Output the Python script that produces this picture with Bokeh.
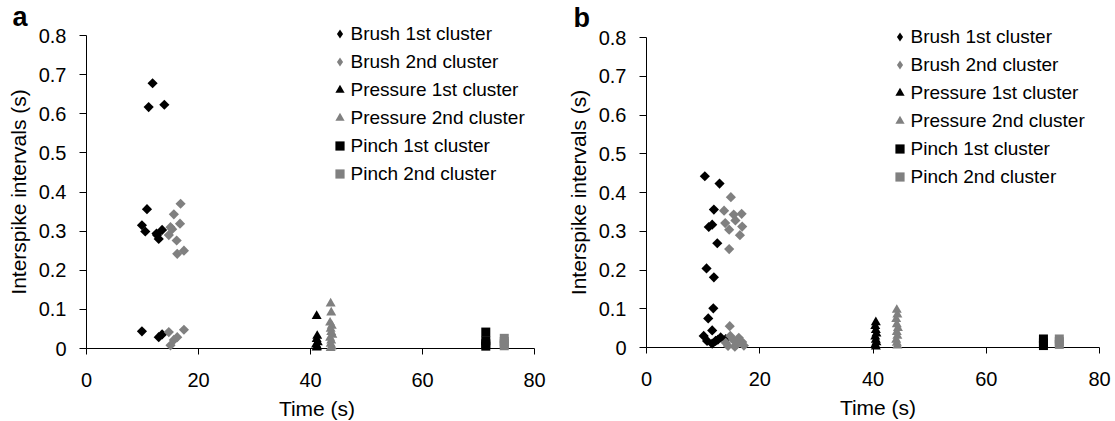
import math
from bokeh.plotting import figure
from bokeh.layouts import row
from bokeh.models import Range1d, FixedTicker, Legend, LegendItem, Label
from bokeh.embed import file_html
from bokeh.resources import INLINE

FONT = "Liberation Sans"

# ---------------- data ----------------
x_ticks = [0, 20, 40, 60, 80]
y_ticks = [0, 0.1, 0.2, 0.3, 0.4, 0.5, 0.6, 0.7, 0.8]
y_tick_labels = ["0", "0.1", "0.2", "0.3", "0.4", "0.5", "0.6", "0.7", "0.8"]
x_title = "Time (s)"
y_title = "Interspike intervals (s)"
panel_letters = ["a", "b"]

series_names = ["Brush 1st cluster", "Brush 2nd cluster", "Pressure 1st cluster",
                "Pressure 2nd cluster", "Pinch 1st cluster", "Pinch 2nd cluster"]

# Panel a
a_brush1_t = [11.8, 11.1, 13.9, 10.8, 9.9, 10.5, 12.5, 12.9, 13.5, 12.6, 9.9, 12.9, 13.5]
a_brush1_v = [0.678, 0.617, 0.623, 0.356, 0.315, 0.299, 0.294, 0.280, 0.303, 0.290, 0.044, 0.029, 0.036]
a_brush2_t = [16.8, 15.6, 16.7, 15.0, 14.7, 16.1, 16.2, 17.4, 14.7, 17.4, 16.2, 15.0, 15.6, 15.3]
a_brush2_v = [0.370, 0.343, 0.319, 0.310, 0.290, 0.276, 0.242, 0.250, 0.042, 0.048, 0.029, 0.008, 0.022, 0.305]
a_press1_t = [41.1, 41.2, 41.1, 41.3, 41.0, 41.2, 41.1]
a_press1_v = [0.083, 0.032, 0.024, 0.016, 0.010, 0.005, 0.002]
a_press2_t = [43.6, 43.7, 43.5, 43.8, 43.6, 43.7, 43.9, 43.5, 43.7, 43.6, 43.8, 43.6]
a_press2_v = [0.115, 0.092, 0.066, 0.058, 0.050, 0.042, 0.035, 0.027, 0.020, 0.012, 0.005, 0.001]
a_pinch1_t = [71.3, 71.3, 71.3, 71.3]
a_pinch1_v = [0.042, 0.020, 0.012, 0.006]
a_pinch2_t = [74.6, 74.6, 74.6, 74.6]
a_pinch2_v = [0.026, 0.018, 0.012, 0.007]

# Panel b
b_brush1_t = [10.3, 12.9, 11.9, 11.0, 11.6, 12.5, 10.6, 11.9, 11.8, 10.9, 11.6,
              10.1, 10.7, 12.2, 13.1, 14.0, 11.6, 12.6]
b_brush1_v = [0.442, 0.423, 0.356, 0.311, 0.317, 0.269, 0.204, 0.181, 0.101, 0.075, 0.044,
              0.030, 0.017, 0.017, 0.026, 0.022, 0.010, 0.020]
b_brush2_t = [14.9, 13.7, 15.4, 16.8, 13.9, 15.7, 16.9, 14.6, 16.5, 14.6, 14.7,
              14.0, 14.8, 15.3, 15.9, 16.3, 16.9, 17.2, 15.6, 14.4]
b_brush2_v = [0.388, 0.353, 0.343, 0.345, 0.321, 0.328, 0.312, 0.304, 0.290, 0.254, 0.055,
              0.012, 0.030, 0.020, 0.008, 0.025, 0.014, 0.005, 0.002, 0.004]
b_press1_t = [40.5, 40.4, 40.5, 40.6, 40.4, 40.5, 40.6, 40.4, 40.5]
b_press1_v = [0.065, 0.055, 0.045, 0.036, 0.028, 0.020, 0.013, 0.007, 0.002]
b_press2_t = [44.2, 44.3, 44.1, 44.2, 44.4, 44.2, 44.3, 44.1, 44.2, 44.3]
b_press2_v = [0.097, 0.085, 0.073, 0.060, 0.050, 0.040, 0.030, 0.020, 0.012, 0.005]
b_pinch1_t = [70.1, 70.1, 70.1]
b_pinch1_v = [0.022, 0.012, 0.005]
b_pinch2_t = [72.9, 72.9, 72.9]
b_pinch2_v = [0.022, 0.015, 0.008]

# ---------------- styles ----------------
BLACK = "#000000"
GREY = "#808080"
# data marker/angle/size, legend marker (legend glyphs cannot be rotated), colour
series_styles = [
    dict(marker="square", angle=math.pi / 4, size=7.2, leg="diamond", color=BLACK),
    dict(marker="square", angle=math.pi / 4, size=7.2, leg="diamond", color=GREY),
    dict(marker="triangle", angle=0, size=10, leg="triangle", color=BLACK),
    dict(marker="triangle", angle=0, size=10, leg="triangle", color=GREY),
    dict(marker="square", angle=0, size=9, leg="square", color=BLACK),
    dict(marker="square", angle=0, size=9, leg="square", color=GREY),
]

H = 421


def make_panel(letter, data, fig_w, x0_px, x80_px, y0_px, y08_px, title_cx,
               leg_left, leg_top, letter_x, letter_base):
    xs = 80.0 / (x80_px - x0_px)
    ys = 0.8 / (y0_px - y08_px)
    p = figure(width=fig_w, height=H, output_backend="svg", toolbar_location=None,
               x_range=Range1d(-x0_px * xs, (fig_w - x0_px) * xs),
               y_range=Range1d(-(H - y0_px) * ys, y0_px * ys),
               min_border=0)
    p.outline_line_color = None
    p.xgrid.visible = False
    p.ygrid.visible = False
    p.background_fill_color = "white"
    p.border_fill_color = "white"

    xa = p.xaxis[0]
    ya = p.yaxis[0]
    xa.fixed_location = 0
    ya.fixed_location = 0
    xa.ticker = FixedTicker(ticks=x_ticks)
    ya.ticker = FixedTicker(ticks=y_ticks)
    ya.major_label_overrides = {t: l for t, l in zip(y_ticks, y_tick_labels)}
    xa.axis_label = x_title
    ya.axis_label = y_title
    # axis title is centred on the bounds; the x title sits a little right of centre
    xa.bounds = (x_ticks[0], 2 * (title_cx - x0_px) * xs)
    ya.bounds = (y_ticks[0], y_ticks[-1])
    for ax in (xa, ya):
        ax.axis_line_color = None
        ax.major_tick_line_color = BLACK
        ax.minor_tick_line_color = None
        ax.major_tick_in = 0
        ax.major_label_text_font = FONT
        ax.major_label_text_font_size = "20px"
        ax.major_label_text_color = BLACK
        ax.axis_label_text_font = FONT
        ax.axis_label_text_font_size = "21px"
        ax.axis_label_text_font_style = "normal"
        ax.axis_label_text_color = BLACK
    xa.major_tick_out = 6
    xa.major_label_standoff = 18
    xa.axis_label_standoff = 7
    ya.major_tick_out = 7
    ya.major_label_standoff = 13
    ya.axis_label_standoff = 6

    # axis lines
    p.segment(x0=[x_ticks[0], 0], y0=[0, y_ticks[0]], x1=[x_ticks[-1], 0], y1=[0, y_ticks[-1]],
              line_color=BLACK, line_width=1)

    items = []
    for name, st, (t, v) in zip(series_names, series_styles, data):
        r = p.scatter(t, v, marker=st["marker"], angle=st["angle"], size=st["size"],
                      fill_color=st["color"], line_color=None)
        if st["leg"] != st["marker"] or st["angle"] != 0:
            # legend stand-in (drawn with zero size on the plot)
            r = p.scatter(t, v, marker=st["leg"], size=0, fill_color=st["color"], line_color=None)
        items.append(LegendItem(label=name, renderers=[r]))

    glyph, spacing = 23, 5
    n = len(items)
    leg_h = n * glyph + (n - 1) * spacing
    leg = Legend(items=items, location=(leg_left, H - (leg_top + leg_h)),
                 border_line_color=None, background_fill_alpha=0, padding=0, margin=0,
                 spacing=spacing, glyph_width=glyph, glyph_height=glyph, label_height=glyph,
                 label_standoff=0, label_text_font=FONT, label_text_font_size="19px",
                 label_text_color=BLACK)
    p.add_layout(leg)

    p.add_layout(Label(x=(letter_x - x0_px) * xs, y=(y0_px - letter_base) * ys,
                       text=letter, text_font=FONT, text_font_size="27px",
                       text_font_style="bold", text_color=BLACK, text_baseline="alphabetic"))
    return p


data_a = [(a_brush1_t, a_brush1_v), (a_brush2_t, a_brush2_v), (a_press1_t, a_press1_v),
          (a_press2_t, a_press2_v), (a_pinch1_t, a_pinch1_v), (a_pinch2_t, a_pinch2_v)]
data_b = [(b_brush1_t, b_brush1_v), (b_brush2_t, b_brush2_v), (b_press1_t, b_press1_v),
          (b_press2_t, b_press2_v), (b_pinch1_t, b_pinch1_v), (b_pinch2_t, b_pinch2_v)]

pa = make_panel(panel_letters[0], data_a, fig_w=557, x0_px=86, x80_px=534, y0_px=348, y08_px=35,
                title_cx=316.5, leg_left=327.5, leg_top=22, letter_x=12, letter_base=16)
pb = make_panel(panel_letters[1], data_b, fig_w=558, x0_px=89, x80_px=542, y0_px=347, y08_px=37,
                title_cx=320.5, leg_left=330.5, leg_top=25, letter_x=16, letter_base=17)

layout = row(pa, pb)
open("out.html", "w").write(file_html(layout, INLINE))
